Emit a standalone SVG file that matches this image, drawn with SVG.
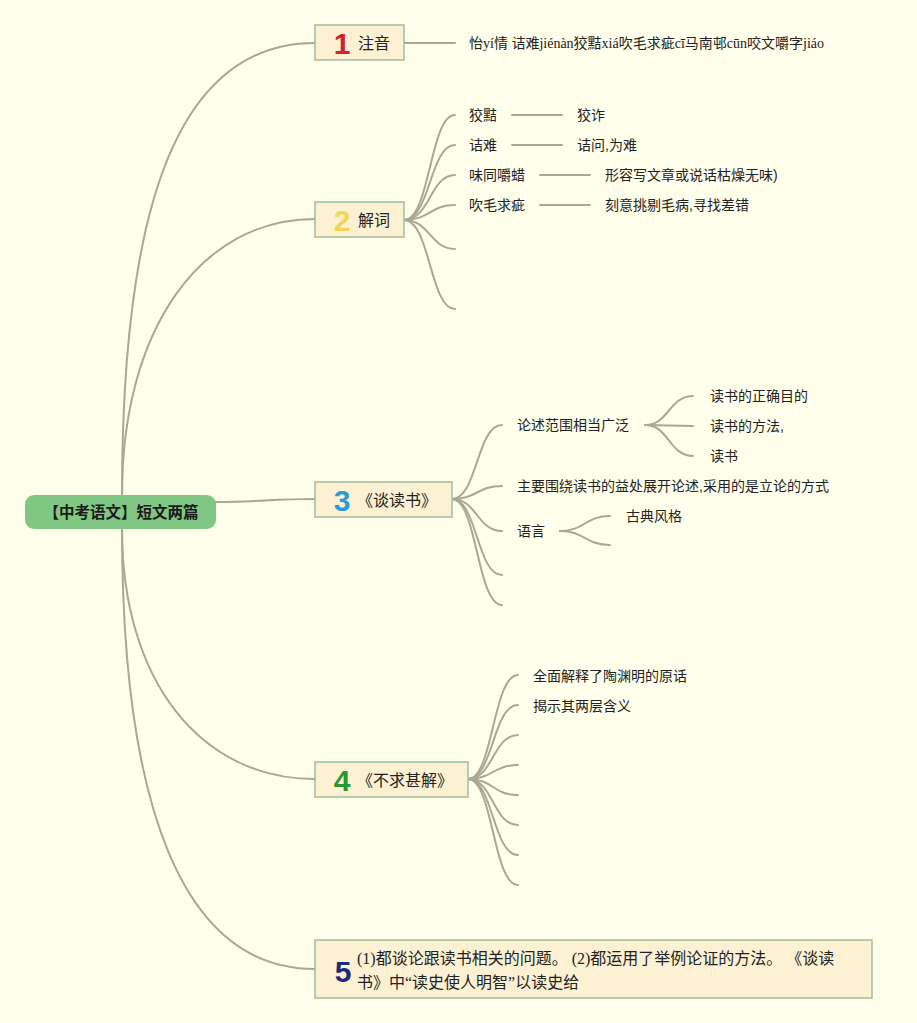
<svg xmlns="http://www.w3.org/2000/svg" width="917" height="1023" viewBox="0 0 917 1023">
<style>
.bg{fill:#FFFFEB}
.con path,.con line{fill:none;stroke:#A9A893;stroke-width:2;stroke-linecap:round}
.topic rect{fill:#FDF1D3;stroke:#9FBE9C;stroke-width:1.5}
.num{font-family:"Liberation Sans","Noto Sans",sans-serif;font-weight:bold;font-size:30px;text-anchor:middle}
.tt{font-family:"Liberation Sans","Noto Sans CJK SC",sans-serif;font-size:16px;fill:#222}
.lb{font-family:"Liberation Sans","Noto Sans CJK SC",sans-serif;font-size:14px;fill:#222}
.sf{font-family:"Liberation Serif","Noto Sans CJK SC",serif;fill:#222}
</style>
<rect class="bg" x="0" y="0" width="917" height="1023"/>
<g id="connectors" class="con">
<path d="M122,495 C122,200 180,43 315,43"/>
<path d="M122,495 C122,330 200,219 315,219"/>
<path d="M215,502 C260,502 270,499 315,499"/>
<path d="M122,529 C122,680 200,779 315,779"/>
<path d="M122,529 C122,800 180,969 315,969"/>
<line x1="404" y1="43" x2="455" y2="43"/>
<path d="M404,220 C430,220 430,115 455,115"/>
<path d="M404,220 C430,220 430,145 455,145"/>
<path d="M404,220 C430,220 430,175 455,175"/>
<path d="M404,220 C430,220 430,205 455,205"/>
<path d="M404,220 C430,220 430,249 455,249"/>
<path d="M404,220 C430,220 430,309 455,309"/>
<line x1="512" y1="115" x2="562" y2="115"/>
<line x1="512" y1="145" x2="562" y2="145"/>
<line x1="540" y1="175" x2="590" y2="175"/>
<line x1="540" y1="205" x2="590" y2="205"/>
<path d="M452,499 C477,499 477,425 502,425"/>
<path d="M452,499 C477,499 477,486 502,486"/>
<path d="M452,499 C477,499 477,531 502,531"/>
<path d="M452,499 C477,499 477,575 502,575"/>
<path d="M452,499 C477,499 477,605 502,605"/>
<path d="M645,425 C669,425 669,396 693,396"/>
<path d="M645,425 L693,426"/>
<path d="M645,425 C669,425 669,456 693,456"/>
<path d="M560,531 C585,531 585,516 610,516"/>
<path d="M560,531 C585,531 585,545 610,545"/>
<path d="M468,779 C493,779 493,675 518,675"/>
<path d="M468,779 C493,779 493,705 518,705"/>
<path d="M468,779 C493,779 493,735 518,735"/>
<path d="M468,779 C493,779 493,765 518,765"/>
<path d="M468,779 C493,779 493,795 518,795"/>
<path d="M468,779 C493,779 493,825 518,825"/>
<path d="M468,779 C493,779 493,855 518,855"/>
<path d="M468,779 C493,779 493,885 518,885"/>
</g>
<g id="root">
<rect x="25" y="495" width="191" height="34" rx="9" fill="#80C784"/>
<text x="121" y="518" text-anchor="middle" font-family="Liberation Sans,'Noto Sans CJK SC',sans-serif" font-weight="bold" font-size="15.5" fill="#1a1a1a">【中考语文】短文两篇</text>
</g>
<g id="topic1" class="topic">
<rect x="315" y="25" width="89" height="35"/>
<text class="num" x="342" y="54" fill="#D42030">1</text>
<text class="tt" x="358" y="49">注音</text>
</g>
<g id="topic2" class="topic">
<rect x="315" y="202" width="89" height="35"/>
<text class="num" x="342" y="231" fill="#F2D552">2</text>
<text class="tt" x="358" y="226">解词</text>
</g>
<g id="topic3" class="topic">
<rect x="315" y="482" width="137" height="35"/>
<text class="num" x="342" y="511" fill="#2A9AD8">3</text>
<text class="tt" x="357" y="506">《谈读书》</text>
</g>
<g id="topic4" class="topic">
<rect x="315" y="762" width="153" height="35"/>
<text class="num" x="342" y="791" fill="#2A9632">4</text>
<text class="tt" x="357" y="786">《不求甚解》</text>
</g>
<g id="topic5" class="topic">
<rect x="315" y="940" width="557" height="58"/>
<text class="num" x="343" y="982" fill="#1E2C78">5</text>
<text class="sf" font-size="16" x="357" y="964">(1)都谈论跟读书相关的问题。 (2)都运用了举例论证的方法。 《谈读</text>
<text class="sf" font-size="16" x="357" y="988">书》中“读史使人明智”以读史给</text>
</g>
<g id="n1-1"><text class="sf" font-size="14" x="469" y="48">怡yí情 诘难jiénàn狡黠xiá吹毛求疵cī马南邨cūn咬文嚼字jiáo</text></g>
<g id="n2-1"><text class="lb" x="469" y="120">狡黠</text><text class="lb" x="577" y="120">狡诈</text></g>
<g id="n2-2"><text class="lb" x="469" y="150">诘难</text><text class="lb" x="577" y="150">诘问,为难</text></g>
<g id="n2-3"><text class="lb" x="469" y="180">味同嚼蜡</text><text class="lb" x="605" y="180">形容写文章或说话枯燥无味)</text></g>
<g id="n2-4"><text class="lb" x="469" y="210">吹毛求疵</text><text class="lb" x="605" y="210">刻意挑剔毛病,寻找差错</text></g>
<g id="n3-1"><text class="lb" x="517" y="430">论述范围相当广泛</text></g>
<g id="n3-1-1"><text class="lb" x="710" y="401">读书的正确目的</text></g>
<g id="n3-1-2"><text class="lb" x="710" y="431">读书的方法,</text></g>
<g id="n3-1-3"><text class="lb" x="710" y="461">读书</text></g>
<g id="n3-2"><text class="lb" x="517" y="491">主要围绕读书的益处展开论述,采用的是立论的方式</text></g>
<g id="n3-3"><text class="lb" x="517" y="536">语言</text></g>
<g id="n3-3-1"><text class="lb" x="626" y="521">古典风格</text></g>
<g id="n4-1"><text class="lb" x="533" y="681">全面解释了陶渊明的原话</text></g>
<g id="n4-2"><text class="lb" x="533" y="711">揭示其两层含义</text></g>
</svg>
